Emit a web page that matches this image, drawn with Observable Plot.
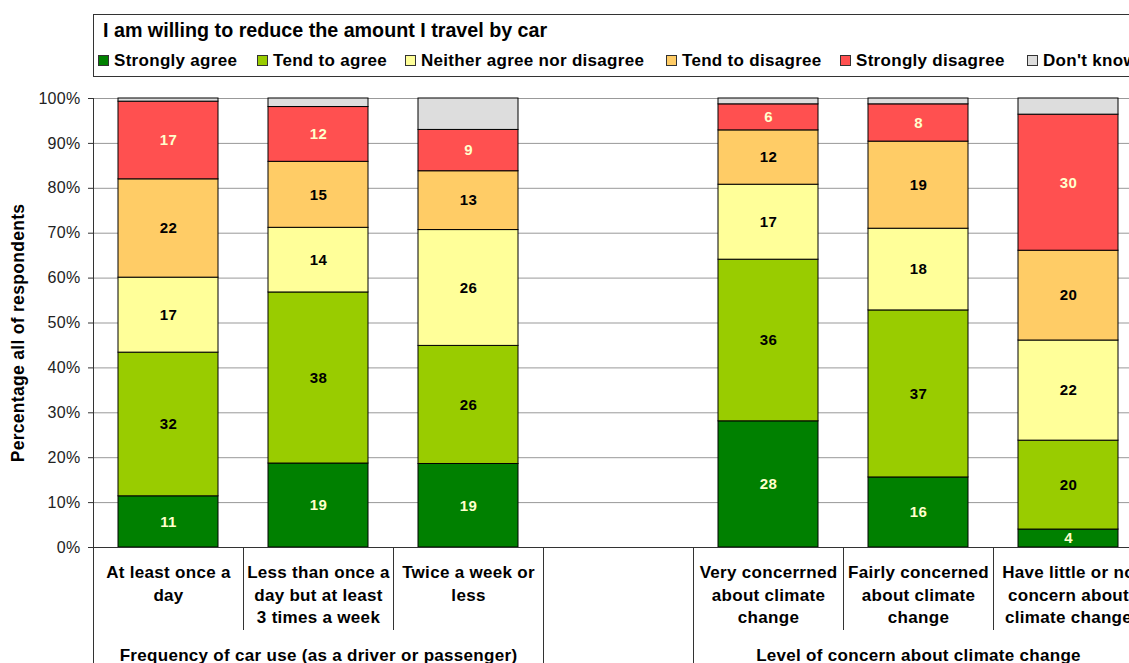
<!DOCTYPE html>
<html>
<head>
<meta charset="utf-8">
<script src="https://cdn.jsdelivr.net/npm/d3@7"></script>
<script src="https://cdn.jsdelivr.net/npm/@observablehq/plot@0.6"></script>
<style>
  html, body { margin: 0; padding: 0; background: #fff; }
  body { width: 1129px; height: 663px; overflow: hidden; position: relative; font-family: "Liberation Sans", Arial, sans-serif; }
  #legend { position: absolute; left: 93px; top: 14px; width: 1100px; height: 63px; border: 1.5px solid #333; box-sizing: border-box; background: #fff; z-index: 2; }
  #legend .title { position: absolute; left: 9px; top: 4px; font-weight: bold; font-size: 19.7px; white-space: nowrap; }
  #legend .item { position: absolute; top: 37px; font-weight: bold; font-size: 17px; letter-spacing: 0.3px; white-space: nowrap; line-height: 18px; }
  #legend .sw { display: inline-block; width: 9px; height: 9px; border: 1px solid #333; margin-right: 5px; vertical-align: 0px; }
  #chart { position: absolute; left: 0; top: 0; }
  #chart svg text { letter-spacing: 0.3px; }
</style>
</head>
<body>
<div id="legend"></div>
<div id="chart"></div>
<script>
// ---- data ----
const title = "I am willing to reduce the amount I travel by car";
const categories = [
  "At least once a\nday",
  "Less than once a\nday but at least\n3 times a week",
  "Twice a week or\nless",
  " ",
  "Very concerrned\nabout climate\nchange",
  "Fairly concerned\nabout climate\nchange",
  "Have little or no\nconcern about\nclimate change"
];
const groups = ["Frequency of car use (as a driver or passenger)", "Level of concern about climate change"];
const series = ["Strongly agree", "Tend to agree", "Neither agree nor disagree", "Tend to disagree", "Strongly disagree", "Don't know"];
const stronglyAgree    = [11.4, 18.7, 18.6, null, 28.1, 15.6, 4.0];
const tendToAgree      = [32.0, 38.1, 26.3, null, 36.0, 37.2, 19.8];
const neither          = [16.7, 14.4, 25.8, null, 16.7, 18.2, 22.3];
const tendToDisagree   = [21.9, 14.7, 13.1, null, 12.1, 19.4, 20.0];
const stronglyDisagree = [17.3, 12.2, 9.2, null, 5.8, 8.3, 30.3];
const dontKnow         = [0.7, 1.9, 7.0, null, 1.3, 1.3, 3.6];
const yTicks = [0, 10, 20, 30, 40, 50, 60, 70, 80, 90, 100];
const yTitle = "Percentage all of respondents";

// ---- styling ----
const colors = ["#008000", "#99CC00", "#FFFF99", "#FFCC66", "#FF5050", "#DDDDDD"];
const labelColors = ["#FFFFCC", "#000000", "#000000", "#000000", "#FFFFCC", null];
const legendX = [98, 257, 405, 666, 840, 1027];

const seriesValues = [stronglyAgree, tendToAgree, neither, tendToDisagree, stronglyDisagree, dontKnow];
const rows = categories.flatMap((c, i) => series.map((s, j) => ({
  cat: c, series: s, si: j, value: seriesValues[j][i]
}))).filter(d => d.value != null);

// legend (HTML)
const legend = document.getElementById("legend");
const t = document.createElement("div"); t.className = "title"; t.textContent = title; legend.appendChild(t);
series.forEach((s, j) => {
  const it = document.createElement("div");
  it.className = "item";
  it.style.left = (legendX[j] - 94) + "px";
  const sw = document.createElement("span"); sw.className = "sw"; sw.style.background = colors[j];
  it.appendChild(sw);
  it.appendChild(document.createTextNode(s));
  legend.appendChild(it);
});

const W = 1129, H = 663;
const xRange = [93, 1143];
const step = (xRange[1] - xRange[0]) / categories.length;
const font = "'Liberation Sans', Arial, sans-serif";

const chart = Plot.plot({
  width: W, height: H,
  marginLeft: 93, marginRight: 0, marginTop: 98, marginBottom: 116,
  style: { fontFamily: font, fontSize: "15px", color: "#000", background: "transparent", overflow: "hidden" },
  x: { type: "band", domain: categories, range: xRange, paddingInner: 1/3, paddingOuter: 1/6, axis: null },
  y: { domain: [0, 100], axis: null },
  color: { type: "identity" },
  marks: [
    Plot.gridY(yTicks, { stroke: "#999", strokeOpacity: 1, strokeWidth: 1 }),
    Plot.axisY({ ticks: yTicks, tickFormat: d => d + "%", tickSize: 5, tickPadding: 8, fontSize: 16, label: null, stroke: "#333", fill: "#222" }),
    Plot.barY(rows, { x: "cat", y: "value", fill: d => colors[d.si], stroke: "#000", strokeWidth: 1 }),
    Plot.text(rows.filter(d => labelColors[d.si]), Plot.stackY({
      x: "cat", y: "value", z: null,
      text: d => String(Math.round(d.value)),
      fill: d => labelColors[d.si],
      fontWeight: "bold", fontSize: 15
    })),
    Plot.ruleY([0], { stroke: "#333", strokeWidth: 1 }),
    // axis line extended down as the first group divider
    Plot.ruleX([categories[0]], { y1: 100, y2: 0, dx: -step / 2, insetBottom: -116, stroke: "#333", strokeWidth: 1 }),
    // group dividers
    Plot.ruleX([categories[3], categories[4]], { y1: 0, y2: 0, dx: -step / 2, insetBottom: -116, stroke: "#333", strokeWidth: 1 }),
    // category dividers
    Plot.ruleX([categories[1], categories[2], categories[5], categories[6]], { y1: 0, y2: 0, dx: -step / 2, insetBottom: -83, stroke: "#333", strokeWidth: 1 }),
    // category labels
    Plot.text(categories, { x: d => d, text: d => d, frameAnchor: "bottom", lineAnchor: "top", dy: 15, lineHeight: 1.32, fontWeight: "bold", fontSize: 17, fill: "#000" }),
    // group labels
    Plot.text([{ cat: categories[1], label: groups[0] }, { cat: categories[5], label: groups[1] }],
      { x: "cat", text: "label", frameAnchor: "bottom", lineAnchor: "bottom", dy: 113, fontWeight: "bold", fontSize: 17, fill: "#000" }),
    // y title
    Plot.text([yTitle], { frameAnchor: "left", textAnchor: "middle", rotate: -90, dx: -75, dy: 10, fontWeight: "bold", fontSize: 17.5, fill: "#000" })
  ]
});
document.getElementById("chart").appendChild(chart);
</script>
</body>
</html>
